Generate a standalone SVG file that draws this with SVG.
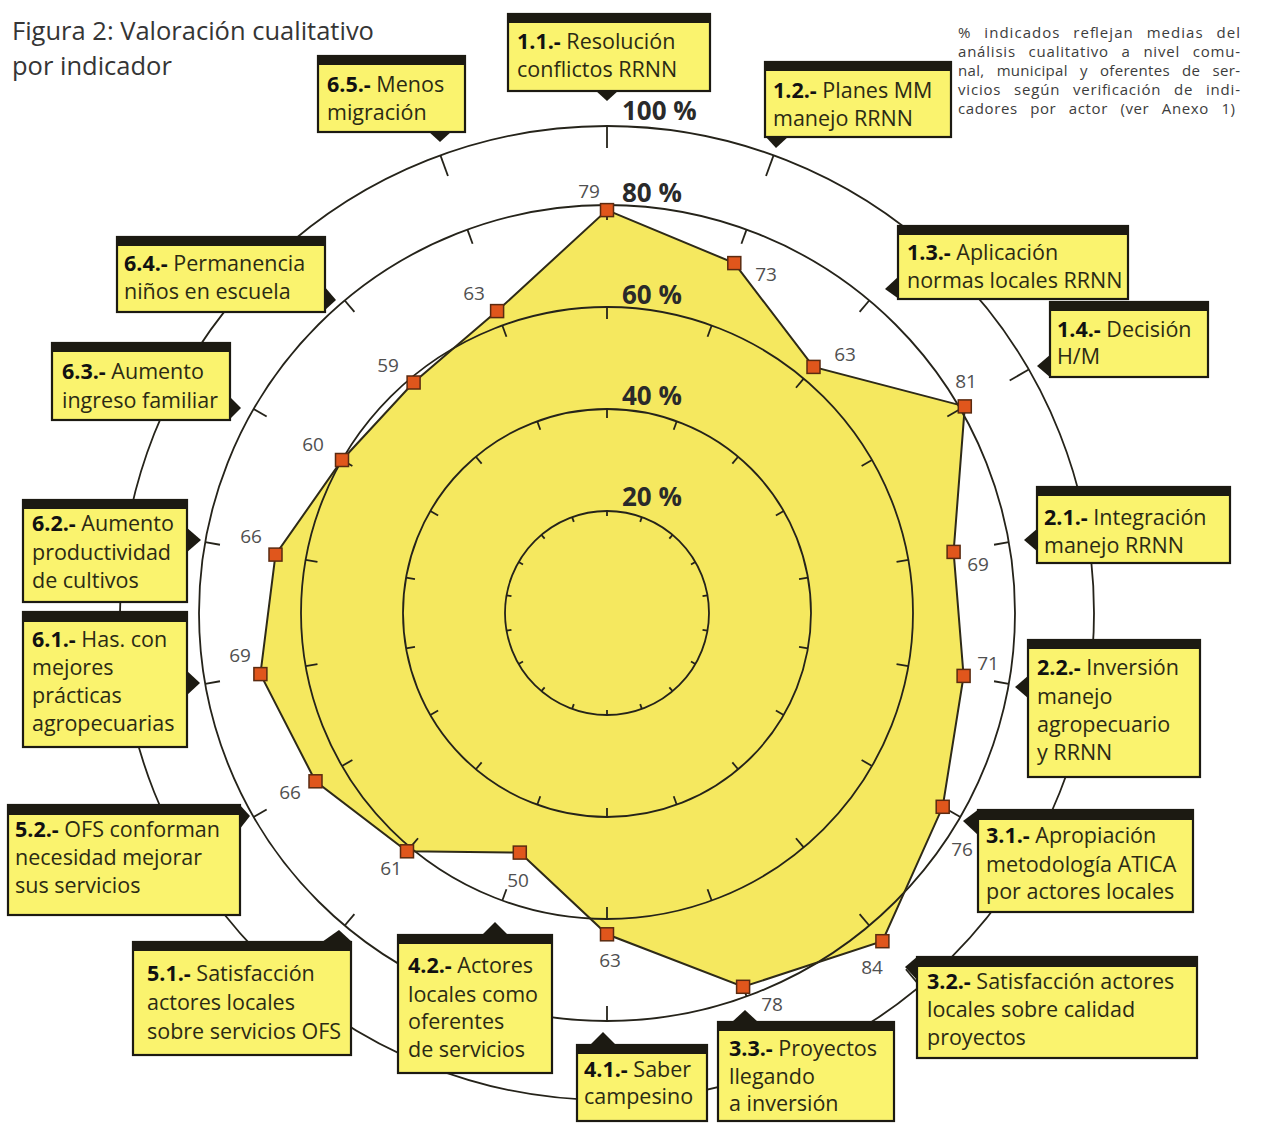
<svg xmlns="http://www.w3.org/2000/svg" width="1262" height="1125" viewBox="0 0 1262 1125">
  <style>
    .ring { fill: none; stroke: #25231a; stroke-width: 1.8; }
    .tick { stroke: #25231a; stroke-width: 1.8; }
    .area { fill: #f5e85f; }
    .edge { fill: none; stroke: #2e2a18; stroke-width: 2; stroke-linejoin: miter; }
    .mk { fill: #e0561c; stroke: #5a2a10; stroke-width: 1.5; }
    .val { font-family: "Open Sans", "Liberation Sans", sans-serif; font-size: 19px; fill: #505050; text-anchor: middle; }
    .pct { font-family: "Open Sans", "Liberation Sans", sans-serif; font-size: 26px; font-weight: bold; fill: #2a2a2a; }
    .box { fill: #faf36e; stroke: #1c1a12; stroke-width: 2.2; }
    .bar { fill: #1c1a12; }
    .ptr { fill: #1c1a12; }
    .lbl { font-family: "Open Sans", "Liberation Sans", sans-serif; font-size: 21.5px; fill: #2b2a14; }
    .b { font-weight: bold; fill: #111; }
    .title { font-family: "Open Sans", "Liberation Sans", sans-serif; font-size: 25.5px; fill: #353535; }
    .note { font-family: "Open Sans", "Liberation Sans", sans-serif; font-size: 15px; fill: #3c3c3c; word-spacing: 8px; }
  </style>
  <defs>
    <!-- inward ticks on every ring along the top spoke; rotated copies give all 18 spokes -->
    <g id="ticks">
      <line class="tick" x1="607" y1="126" x2="607" y2="148"/>
      <line class="tick" x1="607" y1="205" x2="607" y2="220"/>
      <line class="tick" x1="607" y1="307" x2="607" y2="319"/>
      <line class="tick" x1="607" y1="409" x2="607" y2="418"/>
      <line class="tick" x1="607" y1="511" x2="607" y2="516"/>
    </g>
    <rect id="mk" class="mk" x="-6.5" y="-6.5" width="13" height="13"/>
  </defs>

  <rect width="1262" height="1125" fill="#ffffff"/>

  <!-- heading -->
  <text class="title" x="12" y="40">Figura 2: Valoración cualitativo</text>
  <text class="title" x="12" y="75">por indicador</text>

  <!-- explanatory note, justified -->
  <g class="note">
    <text x="958" y="38" textLength="282" lengthAdjust="spacing">% indicados reflejan medias del</text>
    <text x="958" y="57" textLength="282" lengthAdjust="spacing">análisis cualitativo a nivel comu-</text>
    <text x="958" y="76" textLength="282" lengthAdjust="spacing">nal, municipal y oferentes de ser-</text>
    <text x="958" y="95" textLength="282" lengthAdjust="spacing">vicios según verificación de indi-</text>
    <text x="958" y="114" textLength="277" lengthAdjust="spacing">cadores por actor (ver Anexo 1)</text>
  </g>

  <!-- radar chart -->
  <g id="chart">
    <polygon class="area" points="607,210.1 734.3,263.1 813.5,366.9 964.8,406.4 953.6,551.9 963.6,675.9 942.7,806.8 882.4,941.2 743.1,986.8 607,934.3 519.8,852.6 407,851.3 315.5,781.3 260.4,674.1 275.5,554.6 342,460 413.6,382.5 497.1,311.1"/>
    <g id="rings">
      <circle class="ring" cx="607" cy="613" r="487"/>
      <circle class="ring" cx="607" cy="613" r="408"/>
      <circle class="ring" cx="607" cy="613" r="306"/>
      <circle class="ring" cx="607" cy="613" r="204"/>
      <circle class="ring" cx="607" cy="613" r="102"/>
    </g>
    <g id="spokes">
      <use href="#ticks"/>
      <use href="#ticks" transform="rotate(20 607 613)"/>
      <use href="#ticks" transform="rotate(40 607 613)"/>
      <use href="#ticks" transform="rotate(60 607 613)"/>
      <use href="#ticks" transform="rotate(80 607 613)"/>
      <use href="#ticks" transform="rotate(100 607 613)"/>
      <use href="#ticks" transform="rotate(120 607 613)"/>
      <use href="#ticks" transform="rotate(140 607 613)"/>
      <use href="#ticks" transform="rotate(160 607 613)"/>
      <use href="#ticks" transform="rotate(180 607 613)"/>
      <use href="#ticks" transform="rotate(200 607 613)"/>
      <use href="#ticks" transform="rotate(220 607 613)"/>
      <use href="#ticks" transform="rotate(240 607 613)"/>
      <use href="#ticks" transform="rotate(260 607 613)"/>
      <use href="#ticks" transform="rotate(280 607 613)"/>
      <use href="#ticks" transform="rotate(300 607 613)"/>
      <use href="#ticks" transform="rotate(320 607 613)"/>
      <use href="#ticks" transform="rotate(340 607 613)"/>
    </g>
    <polygon class="edge" points="607,210.1 734.3,263.1 813.5,366.9 964.8,406.4 953.6,551.9 963.6,675.9 942.7,806.8 882.4,941.2 743.1,986.8 607,934.3 519.8,852.6 407,851.3 315.5,781.3 260.4,674.1 275.5,554.6 342,460 413.6,382.5 497.1,311.1"/>
    <g id="markers">
      <use href="#mk" x="607" y="210.1"/>
      <use href="#mk" x="734.3" y="263.1"/>
      <use href="#mk" x="813.5" y="366.9"/>
      <use href="#mk" x="964.8" y="406.4"/>
      <use href="#mk" x="953.6" y="551.9"/>
      <use href="#mk" x="963.6" y="675.9"/>
      <use href="#mk" x="942.7" y="806.8"/>
      <use href="#mk" x="882.4" y="941.2"/>
      <use href="#mk" x="743.1" y="986.8"/>
      <use href="#mk" x="607" y="934.3"/>
      <use href="#mk" x="519.8" y="852.6"/>
      <use href="#mk" x="407" y="851.3"/>
      <use href="#mk" x="315.5" y="781.3"/>
      <use href="#mk" x="260.4" y="674.1"/>
      <use href="#mk" x="275.5" y="554.6"/>
      <use href="#mk" x="342" y="460"/>
      <use href="#mk" x="413.6" y="382.5"/>
      <use href="#mk" x="497.1" y="311.1"/>
    </g>
    <g id="values">
      <text class="val" x="589" y="198">79</text>
      <text class="val" x="766" y="281">73</text>
      <text class="val" x="845" y="361">63</text>
      <text class="val" x="966" y="388">81</text>
      <text class="val" x="978" y="571">69</text>
      <text class="val" x="988" y="670">71</text>
      <text class="val" x="962" y="856">76</text>
      <text class="val" x="872" y="974">84</text>
      <text class="val" x="772" y="1011">78</text>
      <text class="val" x="610" y="967">63</text>
      <text class="val" x="518" y="887">50</text>
      <text class="val" x="391" y="875">61</text>
      <text class="val" x="290" y="799">66</text>
      <text class="val" x="240" y="662">69</text>
      <text class="val" x="251" y="543">66</text>
      <text class="val" x="313" y="451">60</text>
      <text class="val" x="388" y="372">59</text>
      <text class="val" x="474" y="300">63</text>
    </g>
    <g id="scale">
      <text class="pct" x="622" y="120">100 %</text>
      <text class="pct" x="622" y="202">80 %</text>
      <text class="pct" x="622" y="304">60 %</text>
      <text class="pct" x="622" y="405">40 %</text>
      <text class="pct" x="622" y="506">20 %</text>
    </g>
  </g>

  <!-- indicator boxes -->
  <g id="n1-1">
    <rect class="box" x="508" y="14" width="202" height="77"/>
    <rect class="bar" x="507" y="13" width="204" height="10"/>
    <polygon class="ptr" points="595,90 619,90 607,101"/>
    <text class="lbl" x="517" y="49"><tspan class="b">1.1.-</tspan>  Resolución</text>
    <text class="lbl" x="517" y="77">conflictos RRNN</text>
  </g>
  <g id="n1-2">
    <rect class="box" x="765" y="62" width="186" height="75"/>
    <rect class="bar" x="764" y="61" width="188" height="10"/>
    <polygon class="ptr" points="765,136 789,136 776,148"/>
    <text class="lbl" x="773" y="98"><tspan class="b">1.2.-</tspan> Planes MM</text>
    <text class="lbl" x="773" y="126">manejo RRNN</text>
  </g>
  <g id="n1-3">
    <rect class="box" x="898" y="226" width="230" height="73"/>
    <rect class="bar" x="897" y="225" width="232" height="10"/>
    <polygon class="ptr" points="899,276 899,299 885,289"/>
    <text class="lbl" x="907" y="260"><tspan class="b">1.3.-</tspan> Aplicación</text>
    <text class="lbl" x="907" y="288">normas locales RRNN</text>
  </g>
  <g id="n1-4">
    <rect class="box" x="1050" y="302" width="158" height="75"/>
    <rect class="bar" x="1049" y="301" width="160" height="10"/>
    <polygon class="ptr" points="1051,354 1051,378 1037,366"/>
    <text class="lbl" x="1057" y="337"><tspan class="b">1.4.-</tspan> Decisión</text>
    <text class="lbl" x="1057" y="364">H/M</text>
  </g>
  <g id="n2-1">
    <rect class="box" x="1037" y="487" width="193" height="76"/>
    <rect class="bar" x="1036" y="486" width="195" height="10"/>
    <polygon class="ptr" points="1038,528 1038,552 1024,540"/>
    <text class="lbl" x="1044" y="525"><tspan class="b">2.1.-</tspan>  Integración</text>
    <text class="lbl" x="1044" y="553">manejo RRNN</text>
  </g>
  <g id="n2-2">
    <rect class="box" x="1028" y="640" width="172" height="137"/>
    <rect class="bar" x="1027" y="639" width="174" height="10"/>
    <polygon class="ptr" points="1029,675 1029,699 1015,687"/>
    <text class="lbl" x="1037" y="675"><tspan class="b">2.2.-</tspan> Inversión</text>
    <text class="lbl" x="1037" y="704">manejo</text>
    <text class="lbl" x="1037" y="732">agropecuario</text>
    <text class="lbl" x="1037" y="760">y RRNN</text>
  </g>
  <g id="n3-1">
    <rect class="box" x="978" y="810" width="215" height="102"/>
    <rect class="bar" x="977" y="809" width="217" height="11"/>
    <polygon class="ptr" points="979,809 979,836 963,821"/>
    <text class="lbl" x="986" y="843"><tspan class="b">3.1.-</tspan> Apropiación</text>
    <text class="lbl" x="986" y="872">metodología ATICA</text>
    <text class="lbl" x="986" y="899">por actores locales</text>
  </g>
  <g id="n3-2">
    <rect class="box" x="917" y="957" width="280" height="101"/>
    <rect class="bar" x="916" y="956" width="282" height="11"/>
    <polygon class="ptr" points="918,956 918,981 905,967"/>
    <text class="lbl" x="927" y="989"><tspan class="b">3.2.-</tspan> Satisfacción actores</text>
    <text class="lbl" x="927" y="1017">locales sobre calidad</text>
    <text class="lbl" x="927" y="1045">proyectos</text>
  </g>
  <g id="n3-3">
    <rect class="box" x="718" y="1022" width="176" height="99"/>
    <rect class="bar" x="717" y="1021" width="178" height="10"/>
    <polygon class="ptr" points="732,1022 758,1022 745,1010"/>
    <text class="lbl" x="729" y="1056"><tspan class="b">3.3.-</tspan> Proyectos</text>
    <text class="lbl" x="729" y="1084">llegando</text>
    <text class="lbl" x="729" y="1111">a inversión</text>
  </g>
  <g id="n4-1">
    <rect class="box" x="577" y="1045" width="130" height="76"/>
    <rect class="bar" x="576" y="1044" width="132" height="10"/>
    <polygon class="ptr" points="590,1045 616,1045 603,1032"/>
    <text class="lbl" x="584" y="1077"><tspan class="b">4.1.-</tspan> Saber</text>
    <text class="lbl" x="584" y="1104">campesino</text>
  </g>
  <g id="n4-2">
    <rect class="box" x="398" y="935" width="154" height="138"/>
    <rect class="bar" x="397" y="934" width="156" height="10"/>
    <polygon class="ptr" points="482,935 508,935 495,922"/>
    <text class="lbl" x="408" y="973"><tspan class="b">4.2.-</tspan> Actores</text>
    <text class="lbl" x="408" y="1002">locales como</text>
    <text class="lbl" x="408" y="1029">oferentes</text>
    <text class="lbl" x="408" y="1057">de servicios</text>
  </g>
  <g id="n5-1">
    <rect class="box" x="133" y="942" width="218" height="113"/>
    <rect class="bar" x="132" y="941" width="220" height="10"/>
    <polygon class="ptr" points="322,942 339,930 352,942"/>
    <text class="lbl" x="147" y="981"><tspan class="b">5.1.-</tspan> Satisfacción</text>
    <text class="lbl" x="147" y="1010">actores locales</text>
    <text class="lbl" x="147" y="1039">sobre servicios OFS</text>
  </g>
  <g id="n5-2">
    <rect class="box" x="8" y="805" width="232" height="110"/>
    <rect class="bar" x="7" y="804" width="234" height="11"/>
    <polygon class="ptr" points="239,804 239,830 250,816"/>
    <text class="lbl" x="15" y="837"><tspan class="b">5.2.-</tspan> OFS conforman</text>
    <text class="lbl" x="15" y="865">necesidad mejorar</text>
    <text class="lbl" x="15" y="893">sus servicios</text>
  </g>
  <g id="n6-1">
    <rect class="box" x="23" y="612" width="164" height="135"/>
    <rect class="bar" x="22" y="611" width="166" height="11"/>
    <polygon class="ptr" points="186,670 186,696 200,683"/>
    <text class="lbl" x="32" y="647"><tspan class="b">6.1.-</tspan> Has. con</text>
    <text class="lbl" x="32" y="675">mejores</text>
    <text class="lbl" x="32" y="703">prácticas</text>
    <text class="lbl" x="32" y="731">agropecuarias</text>
  </g>
  <g id="n6-2">
    <rect class="box" x="23" y="500" width="164" height="102"/>
    <rect class="bar" x="22" y="499" width="166" height="10"/>
    <polygon class="ptr" points="186,527 186,553 201,540"/>
    <text class="lbl" x="32" y="531"><tspan class="b">6.2.-</tspan> Aumento</text>
    <text class="lbl" x="32" y="560">productividad</text>
    <text class="lbl" x="32" y="588">de cultivos</text>
  </g>
  <g id="n6-3">
    <rect class="box" x="52" y="343" width="178" height="77"/>
    <rect class="bar" x="51" y="342" width="180" height="10"/>
    <polygon class="ptr" points="229,396 229,420 241,408"/>
    <text class="lbl" x="62" y="379"><tspan class="b">6.3.-</tspan> Aumento</text>
    <text class="lbl" x="62" y="408">ingreso familiar</text>
  </g>
  <g id="n6-4">
    <rect class="box" x="117" y="237" width="208" height="75"/>
    <rect class="bar" x="116" y="236" width="210" height="10"/>
    <polygon class="ptr" points="324,286 324,311 336,300"/>
    <text class="lbl" x="124" y="271"><tspan class="b">6.4.-</tspan> Permanencia</text>
    <text class="lbl" x="124" y="299">niños en escuela</text>
  </g>
  <g id="n6-5">
    <rect class="box" x="318" y="56" width="147" height="76"/>
    <rect class="bar" x="317" y="55" width="149" height="10"/>
    <polygon class="ptr" points="428,131 452,131 440,142"/>
    <text class="lbl" x="327" y="92"><tspan class="b">6.5.-</tspan> Menos</text>
    <text class="lbl" x="327" y="120">migración</text>
  </g>
</svg>
